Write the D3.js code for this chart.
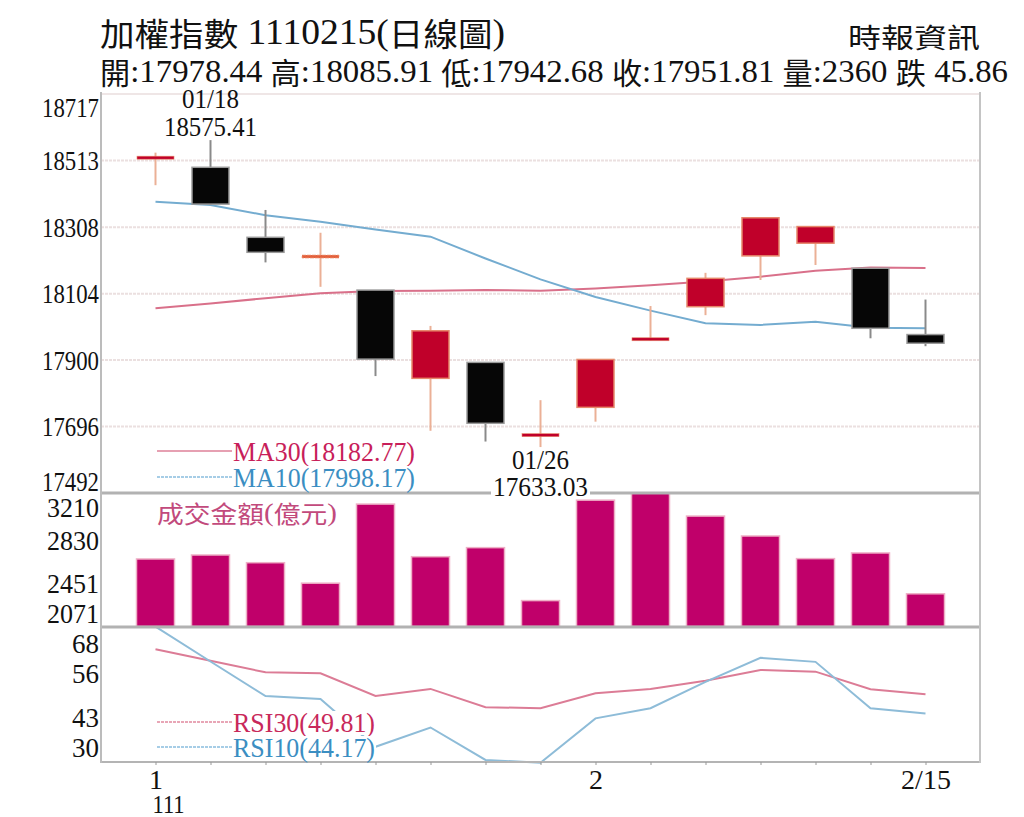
<!DOCTYPE html>
<html><head><meta charset="utf-8">
<script src="https://cdn.jsdelivr.net/npm/d3@7"></script>
<style>body{margin:0;background:#fff}svg{display:block}</style>
</head><body><svg id="c" width="1024" height="817"></svg>
<script>
// ---------- data ----------
const dates  = ['1/17','1/18','1/19','1/20','1/21','1/24','1/25','1/26','2/7','2/8','2/9','2/10','2/11','2/14','2/15'];
const openV  = [18518, 18492, 18277, 18218, 18115, 17844, 17893, 17665, 17755, 17960, 18064, 18220, 18259, 18182, 17978.44];
const highV  = [18537, 18575.41, 18361, 18291, 18115, 18005, 17893, 17777, 17902, 18066, 18168, 18337, 18310, 18182, 18085.91];
const lowV   = [18437, 18376, 18200, 18125, 17851, 17683, 17650, 17633.03, 17711, 17960, 18038, 18146, 18192, 17967, 17942.68];
const closeV = [18525, 18379, 18231, 18218, 17903, 17990, 17706, 17674, 17902, 17968, 18151, 18337, 18310, 17997.67, 17951.81];
const ma10   = [18386, 18376, 18345, 18325, 18301, 18279, 18212, 18148, 18094, 18052, 18013, 18008, 18018, 17999, 17998.17];
const ma30   = [18059, 18074, 18090, 18105, 18112, 18113, 18115, 18113, 18120, 18130, 18141, 18156, 18174, 18184, 18182.77];
const volume = [2668, 2703, 2635, 2454, 3153, 2688, 2768, 2300, 3188, 3253, 3047, 2871, 2671, 2721, 2360];
const rsi30  = [63.1, 59.7, 56.3, 56.0, 49.3, 51.4, 46.0, 45.7, 50.1, 51.4, 53.8, 57.0, 56.5, 51.3, 49.81];
const rsi10  = [69.8, 59.5, 49.3, 48.4, 34.3, 40.0, 30.4, 29.6, 42.7, 45.7, 53.5, 60.6, 59.4, 45.7, 44.17];
const priceTicks = [17492, 17696, 17900, 18104, 18308, 18513, 18717];
const volTicks   = [2071, 2451, 2830, 3210];
const rsiTicks   = [30, 43, 56, 68];
const xLabels    = {'1/17':'1', '2/7':'2', '2/15':'2/15'};
const yearLabel  = '111';
const titleText  = '加權指數 1110215(日線圖)';
const sourceText = '時報資訊';
const volTitle   = '成交金額(億元)';
const highDate = '01/18', lowDate = '01/26';

// ---------- setup ----------
const svg = d3.select('#c');
const SERIF = "'Liberation Serif','Times New Roman',serif";
const CJK = "'Noto Sans CJK TC','Noto Sans CJK SC',sans-serif";
const PL = 101, PR = 980;
const P = {top:94, bot:493}, V = {top:493, bot:626.5}, R = {top:627, bot:762};
const n = dates.length;
const last = n - 1;

const x = d3.scalePoint().domain(dates).range([155.5, 925.5]);
const yP = d3.scaleLinear().domain([17492, 18717]).range([P.bot, P.top]);
const yV = d3.scaleLinear().domain([2071, 3251]).range([V.bot, V.top]);
const yR = d3.scaleLinear().domain([29.8, 69.7]).range([R.bot, R.top]);

function bg(textSel, pad) {
  textSel.each(function(){
    const b = this.getBBox();
    d3.select(this.parentNode).insert('rect', () => this)
      .attr('x', b.x - pad).attr('y', b.y + 3).attr('width', b.width + 2*pad).attr('height', b.height - 6)
      .attr('fill', '#fff');
  });
}
// text with CJK runs in a CJK font and the rest in a serif font
function txt(g, s, xx, yy, size, color, anchor, len) {
  const t = g.append('text').attr('x', xx).attr('y', yy)
    .attr('font-family', SERIF).attr('font-size', size).attr('fill', color || '#111')
    .attr('text-anchor', anchor || 'start').attr('dominant-baseline', 'central');
  const parts = s.match(/[\u3000-\u9fff\uff00-\uffef]+|[^\u3000-\u9fff\uff00-\uffef]+/g) || [];
  parts.forEach(p => {
    const isC = /[\u3000-\u9fff\uff00-\uffef]/.test(p);
    t.append('tspan').text(p).attr('font-family', isC ? CJK : SERIF)
      .attr('font-size', isC ? size * 0.92 : size);
  });
  if (len) t.attr('textLength', len).attr('lengthAdjust', 'spacingAndGlyphs');
  return t;
}

// ---------- header ----------
const hdr = svg.append('g');
txt(hdr, titleText, 100, 32, 35, '#111', 'start', 405);
txt(hdr, sourceText, 980, 36, 30, '#111', 'end', 132);
const chg = closeV[last] - closeV[last-1];
const line2 = `開:${openV[last].toFixed(2)} 高:${highV[last].toFixed(2)} 低:${lowV[last].toFixed(2)} 收:${closeV[last].toFixed(2)} 量:${volume[last]} ${chg < 0 ? '跌' : '漲'} ${Math.abs(chg).toFixed(2)}`;
txt(hdr, line2, 100, 71, 32, '#111', 'start', 908);

// ---------- grid ----------
const grid = svg.append('g');
grid.selectAll('line').data(priceTicks.slice(1)).join('line')
  .attr('x1', PL).attr('x2', PR).attr('y1', d => yP(d)).attr('y2', d => yP(d))
  .attr('stroke', (d,i) => i === priceTicks.length - 2 ? '#f2e8e8' : '#ebe0e0')
  .attr('stroke-width', 2).attr('stroke-dasharray', '3,1');

// ---------- MA lines ----------
const lineP = d3.line().x((d,i) => x(dates[i])).y(d => yP(d));
svg.append('path').attr('d', lineP(ma30)).attr('fill','none').attr('stroke','#d9708a').attr('stroke-width',2);
svg.append('path').attr('d', lineP(ma10)).attr('fill','none').attr('stroke','#74acd0').attr('stroke-width',2);

// ---------- candles ----------
const cw = 37;
const idx = d3.range(n);
const kind = i => closeV[i] > openV[i] ? 'up' : (closeV[i] < openV[i] ? 'down' : 'flat');
const cg = svg.append('g');
cg.selectAll('line.wick').data(idx).join('line').attr('class','wick')
  .attr('x1', i => x(dates[i])).attr('x2', i => x(dates[i]))
  .attr('y1', i => yP(highV[i])).attr('y2', i => yP(lowV[i]))
  .attr('stroke', i => kind(i) === 'down' ? '#8a8a8a' : '#ebb096').attr('stroke-width', 2);
cg.selectAll('rect.body').data(idx).join('rect').attr('class','body')
  .attr('x', i => x(dates[i]) - cw/2).attr('width', cw)
  .attr('y', i => {
    const t = yP(Math.max(openV[i], closeV[i])), h = Math.abs(yP(openV[i]) - yP(closeV[i]));
    return h < 3 ? (t + h/2 - 1.5) : t;
  })
  .attr('height', i => Math.max(3, Math.abs(yP(openV[i]) - yP(closeV[i]))))
  .attr('fill', i => ({up:'#c0002a', down:'#060606', flat:'#e4603c'})[kind(i)])
  .attr('stroke', i => ({up:'#e6876a', down:'#9a9a9a', flat:'#efa080'})[kind(i)])
  .attr('stroke-width', i => Math.abs(yP(openV[i]) - yP(closeV[i])) < 3 ? 0.6 : 1.5)
  .attr('stroke-dasharray', i => kind(i) === 'flat' ? '4,1' : null);

// ---------- volume ----------
svg.append('g').selectAll('rect').data(idx).join('rect')
  .attr('x', i => x(dates[i]) - 19).attr('width', 38)
  .attr('y', i => yV(volume[i])).attr('height', i => yV.range()[0] - yV(volume[i]))
  .attr('fill', '#c0006a').attr('stroke', '#eeb0c6').attr('stroke-width', 1.5);

// ---------- RSI lines ----------
const lineR = d3.line().x((d,i) => x(dates[i])).y(d => yR(d));
svg.append('path').attr('d', lineR(rsi30)).attr('fill','none').attr('stroke','#dc7c96').attr('stroke-width',2);
svg.append('path').attr('d', lineR(rsi10)).attr('fill','none').attr('stroke','#8ebcd8').attr('stroke-width',2);

// ---------- frame ----------
const fr = svg.append('g');
fr.append('line').attr('x1', PL).attr('x2', PR).attr('y1', P.top).attr('y2', P.top).attr('stroke', '#efe6e6').attr('stroke-width', 2);
fr.append('line').attr('x1', PL).attr('x2', PR).attr('y1', 493).attr('y2', 493).attr('stroke', '#b2b2b2').attr('stroke-width', 3);
fr.append('line').attr('x1', PL).attr('x2', PR).attr('y1', 627).attr('y2', 627).attr('stroke', '#b2b2b2').attr('stroke-width', 3);
fr.append('line').attr('x1', PL).attr('x2', PR).attr('y1', R.bot).attr('y2', R.bot).attr('stroke', '#b4b4b4').attr('stroke-width', 2);
fr.append('line').attr('x1', PL).attr('x2', PL).attr('y1', 92).attr('y2', R.bot + 1).attr('stroke', '#bcbcbc').attr('stroke-width', 2);
fr.append('line').attr('x1', PR).attr('x2', PR).attr('y1', 92).attr('y2', R.bot + 1).attr('stroke', '#c4c4c4').attr('stroke-width', 2);

// ---------- y axes ----------
function yAxis(scale, ticks, top, bot, mTop, mBot, len) {
  const g = svg.append('g').attr('transform', `translate(${PL - 2},0)`)
    .call(d3.axisLeft(scale).tickValues(ticks).tickSize(0).tickPadding(0).tickFormat(d3.format('d')));
  g.select('.domain').remove();
  g.selectAll('.tick').attr('transform', d => `translate(0,${Math.max(top + mTop, Math.min(bot - mBot, scale(d)))})`);
  g.selectAll('text').attr('x', 0).attr('dy', 0).attr('dominant-baseline', 'central')
    .attr('font-family', SERIF).attr('font-size', 28).attr('fill', '#111')
    .attr('textLength', d => len(d)).attr('lengthAdjust', 'spacingAndGlyphs');
}
yAxis(yP, priceTicks, P.top, P.bot, 13, 12, () => 57);
yAxis(yV, volTicks, V.top, V.bot, 14, 13, d => String(d).length * 13);
yAxis(yR, rsiTicks, R.top, R.bot, 16, 15, d => String(d).length * 13.5);

// ---------- x axis ----------
const xa = svg.append('g').attr('transform', `translate(0,${R.bot})`)
  .call(d3.axisBottom(x).tickSize(3).tickFormat(d => xLabels[d] || ''));
xa.select('.domain').remove();
xa.selectAll('line').attr('stroke', '#999');
xa.selectAll('text').attr('y', 17).attr('dy', 0).attr('dominant-baseline', 'central')
  .attr('font-family', SERIF).attr('font-size', 28).attr('fill', '#111');
txt(svg, yearLabel, x(dates[0]) - 3, 804, 26, '#111', 'start', 32);

// ---------- high / low labels ----------
const hiI = highV.indexOf(d3.max(highV)), loI = lowV.indexOf(d3.min(lowV));
const hl = svg.append('g');
txt(hl, highDate, x(dates[hiI]), yP(highV[hiI]) - 41, 27, '#111', 'middle', 57);
txt(hl, highV[hiI].toFixed(2), x(dates[hiI]), yP(highV[hiI]) - 13, 27, '#111', 'middle', 93);
txt(hl, lowDate, x(dates[loI]), yP(lowV[loI]) + 13, 27, '#111', 'middle', 57);
const t4 = txt(hl, lowV[loI].toFixed(2), x(dates[loI]), yP(lowV[loI]) + 40, 27, '#111', 'middle', 95);
bg(t4, 2);

// ---------- legends ----------
const lg = svg.append('g');
const legItems = [
  {y:452, c:'#c81e5a', lc:'#e6a0b2', dash:null, s:`MA30(${ma30[last].toFixed(2)})`, len:182},
  {y:478, c:'#3b8ec2', lc:'#a6cde6', dash:'3,1', s:`MA10(${ma10[last].toFixed(2)})`, len:182},
  {y:723, c:'#c8285a', lc:'#e8a6b6', dash:'3,1', s:`RSI30(${rsi30[last].toFixed(2)})`, len:142},
  {y:748, c:'#3b8ec2', lc:'#a6cde6', dash:'3,1', s:`RSI10(${rsi10[last].toFixed(2)})`, len:142}
];
legItems.forEach(L => {
  const t = txt(lg, L.s, 233, L.y, 27, L.c, 'start', L.len);
  bg(t, 1);
  lg.append('line').attr('x1', 157).attr('x2', 232).attr('y1', L.y - 1).attr('y2', L.y - 1)
    .attr('stroke', L.lc).attr('stroke-width', 2).attr('stroke-dasharray', L.dash);
});
txt(lg, volTitle, 157, 512, 26, '#c24a7c', 'start', 180);
</script></body></html>
